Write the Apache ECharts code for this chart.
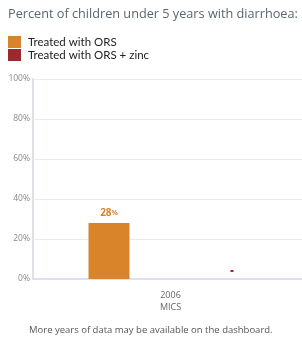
<!DOCTYPE html>
<html lang="en">
  <head>
    <meta charset="UTF-8" />
    <title>Diarrhoea treatment</title>
    <script src="https://cdnjs.cloudflare.com/ajax/libs/echarts/6.0.0/echarts.min.js"></script>
    <style>
      * { margin: 0; padding: 0; }
      body { background: #fff; overflow: hidden; }
      #chart { width: 310px; height: 338px; }
    </style>
  </head>
  <body>
    <div id="chart"></div>
    <script>
      const categories = ["2006\nMICS"];
      const orsValues = [28];
      const zincValues = [0];
      const yTicks = [0, 20, 40, 60, 80, 100];

      const orange = "#d9842b";
      const red = "#9b2a2e";
      const font = "Open Sans";

      const chart = echarts.init(document.getElementById("chart"));
      chart.setOption({
        animation: false,
        textStyle: { fontFamily: font },
        title: {
          text: "Percent of children under 5 years with diarrhoea:",
          left: 3,
          top: 3,
          textStyle: { fontSize: 12.7, fontWeight: "normal", color: "#5b6670", fontFamily: font }
        },
        legend: {
          orient: "vertical",
          left: 3,
          top: 31,
          itemWidth: 13,
          itemHeight: 12,
          itemGap: 1,
          icon: "rect",
          textStyle: { fontSize: 11.5, fontWeight: "normal", color: "#222", fontFamily: "Lato", padding: [0, 0, 0, 2] },
          data: ["Treated with ORS", "Treated with ORS + zinc"]
        },
        grid: { left: 33, right: 2, top: 79, bottom: 59 },
        xAxis: {
          type: "category",
          data: categories,
          axisLine: { lineStyle: { color: "#dde1ee", width: 2 } },
          axisTick: { show: false },
          axisLabel: { color: "#666", fontSize: 9, margin: 10, lineHeight: 12 }
        },
        yAxis: {
          type: "value",
          min: yTicks[0],
          max: yTicks[yTicks.length - 1],
          interval: 20,
          axisLine: { show: true, lineStyle: { color: "#dde1ee", width: 2 } },
          axisTick: { show: false },
          splitLine: { lineStyle: { color: "#ebebeb" } },
          axisLabel: { color: "#888", fontSize: 8.5, margin: 3, formatter: "{value}%" }
        },
        series: [
          {
            name: "Treated with ORS",
            type: "bar",
            data: orsValues,
            barWidth: 41,
            barGap: "200%",
            itemStyle: { color: orange },
            label: {
              show: true,
              position: "top",
              distance: 5,
              formatter: (p) => "{v|" + p.value + "}{p|%}",
              rich: {
                v: { color: orange, fontSize: 10, fontWeight: "bold", fontFamily: font },
                p: { color: orange, fontSize: 7, fontWeight: "bold", fontFamily: font }
              }
            }
          },
          {
            name: "Treated with ORS + zinc",
            type: "bar",
            data: zincValues,
            barWidth: 41,
            itemStyle: { color: red },
            label: {
              show: true,
              position: "top",
              distance: 7,
              formatter: "{m|}",
              rich: { m: { backgroundColor: red, width: 3, height: 2, fontSize: 2, lineHeight: 2 } }
            }
          }
        ],
        graphic: [
          {
            type: "text",
            left: 29,
            top: 325,
            style: {
              text: "More years of data may be available on the dashboard.",
              fill: "#555",
              font: "9.5px 'Open Sans'"
            }
          }
        ]
      });
    </script>
  </body>
</html>
